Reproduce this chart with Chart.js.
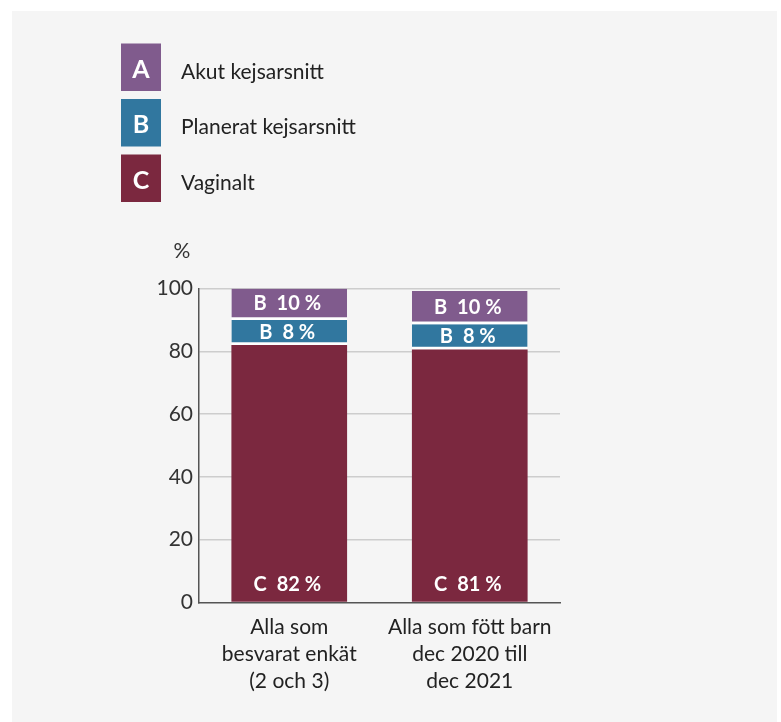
<!DOCTYPE html>
<html>
<head>
<meta charset="utf-8">
<script src="https://cdn.jsdelivr.net/npm/chart.js@4"></script>
<style>
  html, body { margin: 0; padding: 0; background: #ffffff; }
  #chart { display: block; }
</style>
</head>
<body>
<canvas id="chart" width="781" height="722"></canvas>
<script>
const categories = [
  ["Alla som", "besvarat enkät", "(2 och 3)"],
  ["Alla som fött barn", "dec 2020 till", "dec 2021"]
];
// stack order: bottom to top
const vaginalt = [82, 80.6];
const planerat = [8, 8];
const akut = [10, 10.6];
// printed labels inside the bars
const vaginaltText = ["C 82 %", "C 81 %"];
const planeratText = ["B 8 %", "B 8 %"];
const akutText = ["B 10 %", "B 10 %"];
const legendLetters = ["A", "B", "C"];
const legendLabels = ["Akut kejsarsnitt", "Planerat kejsarsnitt", "Vaginalt"];
const yTicks = [0, 20, 40, 60, 80, 100];

const colA = "#805b8d";
const colB = "#31779f";
const colC = "#7b283f";
const FONT = "Lato, 'Open Sans', sans-serif";

const panelBg = {
  id: "panelBg",
  beforeDraw(chart) {
    const ctx = chart.ctx;
    ctx.save();
    ctx.fillStyle = "#f5f5f5";
    ctx.fillRect(12, 11, 765, 711);
    ctx.restore();
  }
};

const legendBoxes = {
  id: "legendBoxes",
  afterDraw(chart) {
    const ctx = chart.ctx;
    const colors = [colA, colB, colC];
    ctx.save();
    legendLabels.forEach((label, i) => {
      const top = 43.5 + i * 55.5;
      ctx.fillStyle = colors[i];
      ctx.fillRect(121, top, 40, 47.5);
      ctx.fillStyle = "#ffffff";
      ctx.font = "bold 25px " + FONT;
      ctx.textAlign = "center";
      ctx.textBaseline = "alphabetic";
      ctx.fillText(legendLetters[i], 141, top + 34);
      ctx.fillStyle = "#222222";
      ctx.font = "21px " + FONT;
      ctx.textAlign = "left";
      ctx.fillText(label, 181, top + 35);
    });
    // unit label above the y axis
    ctx.fillStyle = "#333333";
    ctx.font = "21px " + FONT;
    ctx.textAlign = "center";
    ctx.textBaseline = "middle";
    ctx.fillText("%", 182, 251);
    ctx.restore();
  }
};

// letter, a wide gap, then the number and the percent sign
const barText = {
  id: "barText",
  afterDatasetsDraw(chart) {
    const ctx = chart.ctx;
    const texts = [vaginaltText, planeratText, akutText];
    ctx.save();
    ctx.fillStyle = "#ffffff";
    ctx.font = "bold 20px " + FONT;
    ctx.textAlign = "left";
    ctx.textBaseline = "middle";
    chart.data.datasets.forEach((ds, i) => {
      const meta = chart.getDatasetMeta(i);
      meta.data.forEach((bar, j) => {
        const t = texts[i][j];
        const k = t.indexOf(" ");
        const letter = t.slice(0, k);
        const rest = t.slice(k + 1);
        const wL = ctx.measureText(letter).width;
        const wR = ctx.measureText(rest).width;
        const gap = 10;
        const x0 = bar.x - 2 - (wL + gap + wR) / 2;
        const y = i === 0 ? bar.base - 18 : (bar.y + bar.base - 2.7) / 2;
        ctx.fillText(letter, x0, y + 1);
        ctx.fillText(rest, x0 + wL + gap, y + 1);
      });
    });
    ctx.restore();
  }
};

new Chart(document.getElementById("chart"), {
  type: "bar",
  data: {
    labels: categories,
    datasets: [
      { label: legendLabels[2], data: vaginalt, backgroundColor: colC, borderWidth: 0 },
      { label: legendLabels[1], data: planerat, backgroundColor: colB, borderColor: "#ffffff",
        borderWidth: { top: 0, right: 0, bottom: 2.7, left: 0 }, borderSkipped: false },
      { label: legendLabels[0], data: akut, backgroundColor: colA, borderColor: "#ffffff",
        borderWidth: { top: 0, right: 0, bottom: 2.7, left: 0 }, borderSkipped: false }
    ]
  },
  options: {
    responsive: false,
    devicePixelRatio: 1,
    animation: false,
    layout: { padding: { top: 288.5, right: 221, bottom: 0, left: 0 } },
    datasets: { bar: { categoryPercentage: 1, barPercentage: 0.641 } },
    plugins: { legend: { display: false }, tooltip: { enabled: false } },
    scales: {
      x: {
        stacked: true,
        grid: { display: false, drawTicks: false },
        border: { display: true, color: "#555555", width: 1.5 },
        ticks: {
          color: "#222222",
          padding: 11,
          font: { family: FONT, size: 21, lineHeight: 1.29 },
          maxRotation: 0,
          autoSkip: false
        },
        afterFit: (s) => { s.height = 119.5; }
      },
      y: {
        stacked: true,
        min: 0,
        max: 100,
        afterBuildTicks: (s) => { s.ticks = yTicks.map(v => ({ value: v })); },
        grid: {
          drawTicks: false,
          color: (c) => (c.tick && c.tick.value === 0 ? "rgba(0,0,0,0)" : "#cdcdcd"),
          lineWidth: 1.5
        },
        border: { display: true, color: "#555555", width: 1.5 },
        ticks: {
          color: "#333333",
          padding: 6,
          font: { family: FONT, size: 21 }
        },
        afterFit: (s) => { s.width = 199; }
      }
    }
  },
  plugins: [panelBg, legendBoxes, barText]
});
</script>
</body>
</html>
